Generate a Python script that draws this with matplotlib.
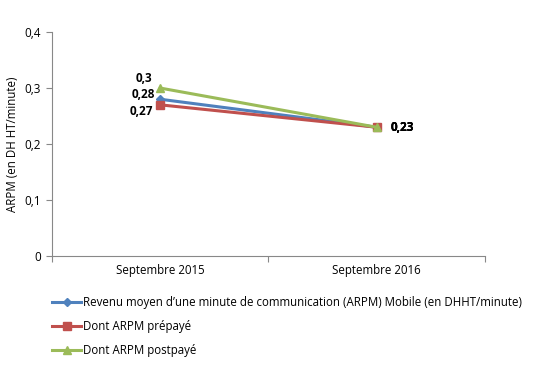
import matplotlib.pyplot as plt
import numpy as np

plt.rcParams['font.family'] = ['Open Sans', 'DejaVu Sans']

categories = ['Septembre 2015', 'Septembre 2016']
arpm_mobile = [0.28, 0.23]
arpm_prepaye = [0.27, 0.23]
arpm_postpaye = [0.30, 0.23]
series_names = [
    "Revenu moyen d\u2019une minute de communication (ARPM) Mobile (en DHHT/minute)",
    "Dont ARPM prépayé",
    "Dont ARPM postpayé",
]
y_ticks = [0, 0.1, 0.2, 0.3, 0.4]
y_tick_labels = ['0', '0,1', '0,2', '0,3', '0,4']

fig = plt.figure(figsize=(5.49, 3.78), dpi=100)
ax = fig.add_axes([0.095, 0.323, 0.788, 0.592])

x = np.arange(len(categories)) + 0.5
styles = [('#4F81BD', 'D', 4.5), ('#C0504D', 's', 5.5), ('#9BBB59', '^', 6)]
series = [arpm_mobile, arpm_prepaye, arpm_postpaye]
handles = []
for vals, name, (col, mk, ms) in zip(series, series_names, styles):
    h, = ax.plot(x, vals, color=col, marker=mk, markersize=ms, linewidth=2.2,
                 label=name)
    handles.append(h)

# data labels (mobile, prepaye, postpaye)
offsets_left = [(-4, 3.6), (-5, -5), (-6, 7.2)]
for vals, off in zip(series, offsets_left):
    ax.annotate(f"{vals[0]:g}".replace('.', ','), (x[0], vals[0]),
                xytext=off, textcoords='offset points', ha='right', va='center',
                fontsize=8.5, fontweight='bold')
for vals in series:
    ax.annotate(f"{vals[1]:g}".replace('.', ','), (x[1], vals[1]),
                xytext=(10, 0), textcoords='offset points', ha='left', va='center',
                fontsize=8.5, fontweight='bold')

ax.set_xlim(0, 2)
ax.set_ylim(0, 0.4)
ax.set_yticks(y_ticks)
ax.set_yticklabels(y_tick_labels, fontsize=8.5)
ax.set_xticks([0, 1, 2])
ax.set_xticklabels([])
ax.set_xticks(x, minor=True)
ax.set_xticklabels(categories, minor=True, fontsize=8.3)
ax.tick_params(axis='x', which='minor', length=0, pad=6)
ax.tick_params(axis='x', which='major', length=4, color='#888888')
ax.tick_params(axis='y', length=4, color='#888888', pad=4)
ax.set_ylabel('ARPM (en DH HT/minute)', fontsize=8.3)

for s in ['top', 'right']:
    ax.spines[s].set_visible(False)
for s in ['left', 'bottom']:
    ax.spines[s].set_color('#888888')

fig.legend(handles=handles, loc='upper left', bbox_to_anchor=(0.087, 0.23),
           frameon=False, fontsize=8.3, handlelength=2.5, labelspacing=0.95,
           handletextpad=0.15, borderaxespad=0)

fig.savefig('out.png', dpi=100)
